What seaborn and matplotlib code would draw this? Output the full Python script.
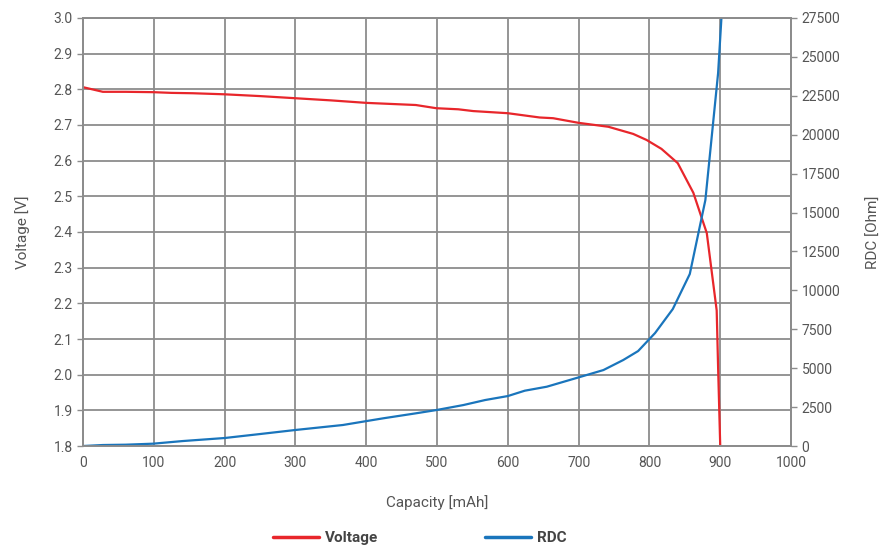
import pandas as pd
import seaborn as sns
import matplotlib.pyplot as plt
from matplotlib.lines import Line2D

# Data
volt_cap = [0, 28, 60, 99, 125, 155, 200, 250, 300, 350, 400, 470, 499, 530, 551,
            600, 645, 664, 700, 742, 777, 796, 817, 840, 862, 881, 895, 897, 900]
voltage = [2.806, 2.793, 2.793, 2.792, 2.790, 2.789, 2.786, 2.781, 2.775, 2.769,
           2.762, 2.756, 2.747, 2.744, 2.739, 2.733, 2.721, 2.719, 2.706, 2.695,
           2.675, 2.658, 2.633, 2.593, 2.51, 2.397, 2.18, 2.02, 1.80]

rdc_cap = [0, 28, 60, 99, 141, 200, 250, 300, 367, 400, 424, 470, 499, 537, 568,
           600, 624, 655, 700, 735, 763, 784, 808, 833, 857, 879, 897, 905]
rdc = [0, 64, 85, 150, 320, 514, 770, 1030, 1350, 1600, 1780, 2100, 2310, 2630,
       2955, 3210, 3555, 3810, 4410, 4880, 5525, 6100, 7260, 8800, 11050, 15800,
       23960, 30000]

x_ticks = list(range(0, 1001, 100))
volt_ticks = [1.8, 1.9, 2.0, 2.1, 2.2, 2.3, 2.4, 2.5, 2.6, 2.7, 2.8, 2.9, 3.0]
rdc_ticks = list(range(0, 27501, 2500))

df_v = pd.DataFrame({'capacity': volt_cap, 'voltage': voltage})
df_r = pd.DataFrame({'capacity': rdc_cap, 'rdc': rdc})

red = '#e8262b'
blue = '#1a75bc'
grid_c = '#8c8c8c'
text_c = '#555555'

sns.set_style('white')
plt.rcParams['font.family'] = ['Roboto', 'DejaVu Sans']

fig = plt.figure(figsize=(8.89, 5.48), dpi=100)
ax = fig.add_axes([0.0934, 0.1861, 0.7964, 0.7811])
ax2 = ax.twinx()

sns.lineplot(data=df_v, x='capacity', y='voltage', ax=ax, color=red, lw=1.6,
             sort=False, estimator=None)
sns.lineplot(data=df_r, x='capacity', y='rdc', ax=ax2, color=blue, lw=1.6,
             sort=False, estimator=None)

ax.set_xlim(0, 1000)
ax.set_ylim(1.8, 3.0)
ax2.set_ylim(0, 27500)
ax.set_xticks(x_ticks)
ax.set_yticks(volt_ticks)
ax.set_yticklabels([f'{v:.1f}' for v in volt_ticks])
ax2.set_yticks(rdc_ticks)

ax.grid(True, color=grid_c, lw=1.3)
ax.set_axisbelow(True)
for a in (ax, ax2):
    for s in a.spines.values():
        s.set_color(grid_c)
        s.set_linewidth(1.3)
    a.tick_params(colors=grid_c, labelcolor=text_c, labelsize=10, length=4, width=1)

ax.set_xlabel('Capacity [mAh]', color=text_c, fontsize=11, labelpad=18)
ax.set_ylabel('Voltage [V]', color=text_c, fontsize=11, labelpad=17)
ax2.set_ylabel('RDC [Ohm]', color=text_c, fontsize=11, labelpad=19)

handles = [Line2D([], [], color=red, lw=2.5), Line2D([], [], color=blue, lw=2.5)]
leg = fig.legend(handles, ['Voltage', 'RDC'], loc='lower center',
                 bbox_to_anchor=(0.472, -0.02), ncol=2, frameon=False,
                 columnspacing=7.0, handlelength=3.0, handletextpad=0.4,
                 prop={'weight': 'bold', 'size': 11})
for t in leg.get_texts():
    t.set_color('#444444')

fig.savefig('out.png', dpi=100)
